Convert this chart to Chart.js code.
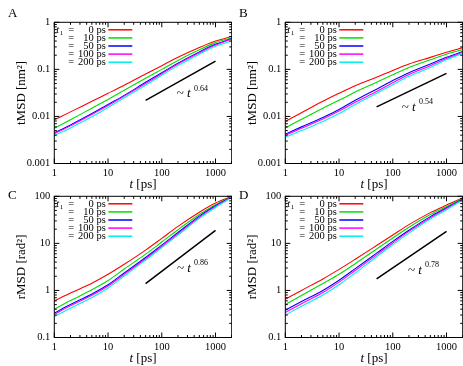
<!DOCTYPE html>
<html><head><meta charset="utf-8">
<script src="https://cdn.jsdelivr.net/npm/chart.js@4.4.0/dist/chart.umd.min.js"></script>
<style>
body{margin:0;background:#fff;width:463px;height:366px;position:relative;overflow:hidden}
canvas{position:absolute}
</style></head><body>
<canvas id="cA" width="232" height="192" style="left:0;top:0"></canvas>
<canvas id="cB" width="232" height="192" style="left:231px;top:0"></canvas>
<canvas id="cC" width="232" height="192" style="left:0;top:174px"></canvas>
<canvas id="cD" width="232" height="192" style="left:231px;top:174px"></canvas>
<script>
// ---- data ----
const tPoints = [1, 2, 5, 10, 20, 50, 100, 200, 500, 1000, 2000];
const seriesLabels = ['0 ps', '10 ps', '50 ps', '100 ps', '200 ps'];

// Panel A: tMSD
const aRed     = [0.0085, 0.0125, 0.021, 0.031, 0.046, 0.080, 0.120, 0.180, 0.290, 0.400, 0.500];
const aGreen   = [0.0056, 0.0085, 0.015, 0.023, 0.036, 0.065, 0.100, 0.155, 0.260, 0.370, 0.470];
const aBlue    = [0.0045, 0.0066, 0.0115, 0.018, 0.028, 0.053, 0.085, 0.135, 0.235, 0.340, 0.450];
const aMagenta = [0.0043, 0.0063, 0.011, 0.017, 0.027, 0.050, 0.081, 0.130, 0.225, 0.330, 0.440];
const aCyan    = [0.0039, 0.0057, 0.0098, 0.0155, 0.025, 0.046, 0.075, 0.120, 0.210, 0.310, 0.400];

// Panel B: tMSD
const bRed     = [0.0078, 0.012, 0.021, 0.031, 0.045, 0.068, 0.095, 0.130, 0.180, 0.230, 0.290];
const bGreen   = [0.0057, 0.0087, 0.015, 0.022, 0.033, 0.053, 0.077, 0.110, 0.160, 0.210, 0.265];
const bBlue    = [0.0042, 0.0060, 0.0095, 0.014, 0.022, 0.038, 0.058, 0.085, 0.130, 0.180, 0.240];
const bMagenta = [0.0040, 0.0056, 0.0088, 0.013, 0.020, 0.034, 0.052, 0.078, 0.120, 0.170, 0.230];
const bCyan    = [0.0036, 0.0050, 0.0078, 0.0115, 0.018, 0.031, 0.047, 0.071, 0.110, 0.160, 0.220];

// Panel C: rMSD
const cRed     = [0.60, 0.88, 1.42, 2.2, 3.6, 7.2, 12.8, 23, 46, 72, 100];
const cGreen   = [0.40, 0.61, 1.03, 1.62, 2.85, 5.9, 10.7, 19.5, 41, 66, 98];
const cBlue    = [0.33, 0.50, 0.84, 1.32, 2.35, 5.0, 9.2, 17, 38, 63, 97];
const cMagenta = [0.31, 0.47, 0.79, 1.24, 2.2, 4.7, 8.7, 16, 36, 61, 96];
const cCyan    = [0.28, 0.42, 0.71, 1.13, 2.02, 4.4, 8.1, 15, 34, 58, 94];

// Panel D: rMSD
const dRed     = [0.65, 1.0, 1.75, 2.8, 4.6, 9.0, 15, 25, 45, 65, 92];
const dGreen   = [0.50, 0.78, 1.4, 2.2, 3.7, 7.6, 13, 22, 41, 61, 90];
const dBlue    = [0.38, 0.58, 1.0, 1.65, 2.9, 6.2, 11, 19, 37, 57, 88];
const dMagenta = [0.34, 0.52, 0.9, 1.5, 2.65, 5.7, 10.2, 18, 35, 55, 86];
const dCyan    = [0.30, 0.46, 0.8, 1.32, 2.35, 5.2, 9.3, 16.5, 33, 52, 83];

// power-law guide lines (t, value)
const guideT = [50, 1000];
const guideA = [0.022, 0.15];
const guideB = [0.016, 0.082];
const guideC = [1.4, 18.9];
const guideD = [1.77, 18];
const guideExp = ['0.64', '0.54', '0.86', '0.78'];

// ticks
const xTicks = [1, 10, 100, 1000];
const xTickLabels = ['1', '10', '100', '1000'];
const yTicksT = [0.001, 0.01, 0.1, 1];
const yTickLabelsT = ['0.001', '0.01', '0.1', '1'];
const yTicksR = [0.1, 1, 10, 100];
const yTickLabelsR = ['0.1', '1', '10', '100'];

// ---- styling ----
const colors = ['#ff0000', '#00dd00', '#0000ff', '#ff00ff', '#00eeee'];
const FONT = "'Liberation Serif', 'DejaVu Serif', serif";

function allTicks(min, max) {
  const out = [];
  for (let e = Math.floor(Math.log10(min)); e <= Math.ceil(Math.log10(max)); e++) {
    for (let m = 1; m <= 9; m++) {
      const v = m * Math.pow(10, e);
      if (v >= min * 0.999 && v <= max * 1.001) out.push(v);
    }
  }
  return out;
}

const decor = {
  id: 'decor',
  afterDraw(chart, args, o) {
    const ctx = chart.ctx, a = chart.chartArea;
    const xs = chart.scales.x, ys = chart.scales.y;
    ctx.save();
    ctx.strokeStyle = '#000';
    ctx.fillStyle = '#000';
    ctx.lineWidth = 1;
    // frame
    ctx.strokeRect(a.left, a.top, a.right - a.left, a.bottom - a.top);
    // ticks inward on all four sides
    ctx.beginPath();
    allTicks(xs.min, xs.max).forEach(v => {
      const p = xs.getPixelForValue(v);
      const L = xTicks.includes(v) ? 5 : 2.5;
      ctx.moveTo(p, a.bottom); ctx.lineTo(p, a.bottom - L);
      ctx.moveTo(p, a.top); ctx.lineTo(p, a.top + L);
    });
    allTicks(ys.min, ys.max).forEach(v => {
      const p = ys.getPixelForValue(v);
      const L = o.yMajor.some(m => Math.abs(m - v) / m < 1e-6) ? 5 : 2.5;
      ctx.moveTo(a.left, p); ctx.lineTo(a.left + L, p);
      ctx.moveTo(a.right, p); ctx.lineTo(a.right - L, p);
    });
    ctx.stroke();

    // panel letter
    ctx.font = '13px ' + FONT;
    ctx.textBaseline = 'middle';
    ctx.textAlign = 'left';
    ctx.fillText(o.letter, 8, o.letterY);

    // x title: italic t + " [ps]"
    const tx1 = 't', tx2 = ' [ps]';
    ctx.font = 'italic 13px ' + FONT;
    const w1 = ctx.measureText(tx1).width;
    ctx.font = '13px ' + FONT;
    const w2 = ctx.measureText(tx2).width;
    const cx = (a.left + a.right) / 2 - (w1 + w2) / 2;
    const ty = a.bottom + 21;
    ctx.font = 'italic 13px ' + FONT;
    ctx.fillText(tx1, cx, ty);
    ctx.font = '13px ' + FONT;
    ctx.fillText(tx2, cx + w1, ty);

    // y title rotated
    ctx.save();
    ctx.translate(22, (a.top + a.bottom) / 2);
    ctx.rotate(-Math.PI / 2);
    ctx.textAlign = 'center';
    ctx.font = '13px ' + FONT;
    ctx.fillText(o.yTitle, 0, 0);
    ctx.restore();

    // legend
    ctx.font = '10.5px ' + FONT;
    for (let i = 0; i < seriesLabels.length; i++) {
      const ry = a.top + 7.5 + i * 8.1;
      ctx.textAlign = 'right';
      ctx.fillText(seriesLabels[i], a.left + 51.5, ry);
      ctx.textAlign = 'center';
      ctx.fillText('=', a.left + 17, ry);
      ctx.strokeStyle = colors[i];
      ctx.lineWidth = 1.5;
      ctx.beginPath();
      ctx.moveTo(a.left + 54, ry); ctx.lineTo(a.left + 78, ry);
      ctx.stroke();
    }
    // t1 =
    ctx.textAlign = 'left';
    ctx.font = 'italic 10.5px ' + FONT;
    ctx.fillText('t', a.left + 2, a.top + 7.5);
    ctx.font = '7px ' + FONT;
    ctx.fillText('1', a.left + 5.5, a.top + 10.5);

    // guide label: ~ t^exp
    const gx = xs.getPixelForValue(o.labelAt[0]);
    const gy = ys.getPixelForValue(o.labelAt[1]);
    ctx.textAlign = 'left';
    ctx.font = '13px ' + FONT;
    ctx.fillText('~', gx, gy);
    const wT = ctx.measureText('~ ').width;
    ctx.font = 'italic 13px ' + FONT;
    ctx.fillText('t', gx + wT, gy);
    const wt = ctx.measureText('t ').width;
    ctx.font = '8px ' + FONT;
    ctx.fillText(o.exp, gx + wT + wt, gy - 5);
    ctx.restore();
  }
};

function makeChart(id, series, guide, yMin, yMax, yTicks, yTickLabels, yTitle, letter, letterY, exp, labelAt) {
  const datasets = series.map((vals, i) => ({
    data: tPoints.map((t, k) => ({ x: t, y: vals[k] })),
    borderColor: colors[i],
    borderWidth: 1.1,
    pointRadius: 0,
    cubicInterpolationMode: 'monotone',
    fill: false,
    order: 5 - i
  }));
  datasets.push({
    data: guideT.map((t, k) => ({ x: t, y: guide[k] })),
    borderColor: '#000', borderWidth: 1.5, pointRadius: 0, fill: false, order: 0
  });
  const tickFont = { family: FONT, size: 10.5 };
  new Chart(document.getElementById(id), {
    type: 'line',
    data: { datasets },
    options: {
      responsive: false, animation: false, devicePixelRatio: 1,
      layout: { padding: { top: 22.3, right: 0.3, left: 0, bottom: 0 } },
      plugins: {
        legend: { display: false }, tooltip: { enabled: false },
        decor: { yMajor: yTicks, yTitle, letter, letterY, exp, labelAt }
      },
      scales: {
        x: {
          type: 'logarithmic', min: 1, max: 2000,
          grid: { display: false, drawTicks: false }, border: { display: false },
          afterBuildTicks: s => { s.ticks = xTicks.map(v => ({ value: v })); },
          afterFit: s => { s.height = 28.5; },
          ticks: { autoSkip: false, maxRotation: 0, padding: 3, color: '#000', font: tickFont,
                   callback: (v) => xTickLabels[xTicks.indexOf(v)] }
        },
        y: {
          type: 'logarithmic', min: yMin, max: yMax,
          grid: { display: false, drawTicks: false }, border: { display: false },
          afterBuildTicks: s => { s.ticks = yTicks.map(v => ({ value: v })); },
          afterFit: s => { s.width = 54.3; },
          ticks: { autoSkip: false, padding: 4, color: '#000', font: tickFont,
                   callback: (v) => { const i = yTicks.findIndex(m => Math.abs(m - v) / m < 1e-6); return i >= 0 ? yTickLabels[i] : ''; } }
        }
      }
    },
    plugins: [decor]
  });
}

makeChart('cA', [aRed, aGreen, aBlue, aMagenta, aCyan], guideA, 0.001, 1, yTicksT, yTickLabelsT, 'tMSD [nm²]', 'A', 14, guideExp[0], [190, 0.030]);
makeChart('cB', [bRed, bGreen, bBlue, bMagenta, bCyan], guideB, 0.001, 1, yTicksT, yTickLabelsT, 'tMSD [nm²]', 'B', 14, guideExp[1], [147, 0.0158]);
makeChart('cC', [cRed, cGreen, cBlue, cMagenta, cCyan], guideC, 0.1, 100, yTicksR, yTickLabelsR, 'rMSD [rad²]', 'C', 22, guideExp[2], [191, 2.94]);
makeChart('cD', [dRed, dGreen, dBlue, dMagenta, dCyan], guideD, 0.1, 100, yTicksR, yTickLabelsR, 'rMSD [rad²]', 'D', 22, guideExp[3], [191, 2.67]);
</script>
</body></html>
